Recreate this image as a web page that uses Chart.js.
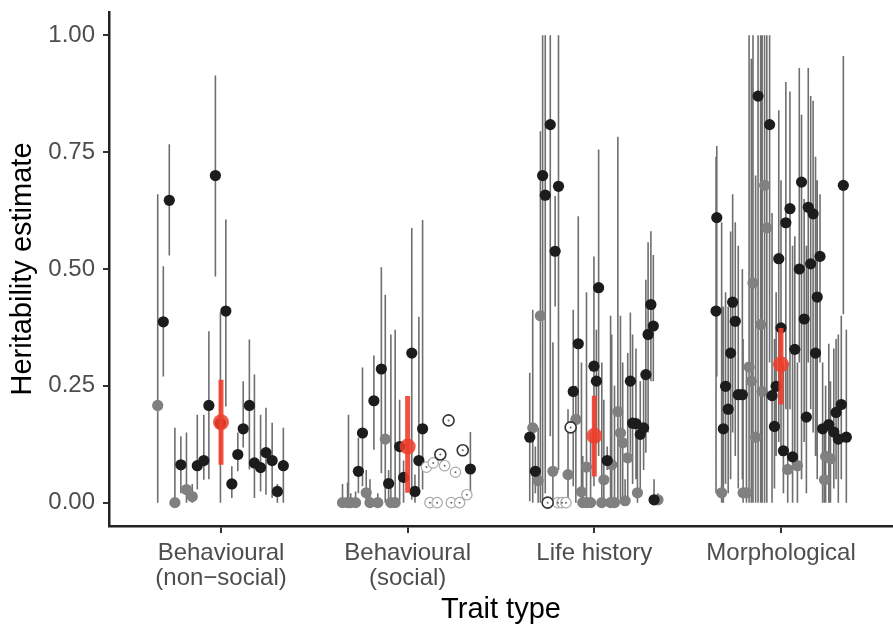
<!DOCTYPE html>
<html>
<head>
<meta charset="utf-8">
<script src="https://cdn.jsdelivr.net/npm/chart.js@4/dist/chart.umd.min.js"></script>
<style>
html,body{margin:0;padding:0;background:#fff;overflow:hidden;width:893px;height:625px;}
canvas{display:block;}
</style>
</head>
<body>
<canvas id="c" width="901" height="625"></canvas>
<script>
// ---- data (tuples: [jitter offset from category, estimate, lower CI, upper CI]) ----
const categories = ['Behavioural\n(non\u2212social)', 'Behavioural\n(social)', 'Life history', 'Morphological'];
const yTicks = [0, 0.25, 0.5, 0.75, 1.0];

const bnsGrey = [[-0.339,0.208,0,0.66],[-0.247,0.0,0,0.16],[-0.185,0.028,0,0.15],[-0.154,0.013,0,0.04]];
const bnsBlack = [[-0.309,0.387,0.27,0.506],[-0.277,0.647,0.529,0.767],[-0.215,0.081,0.02,0.142],[-0.127,0.079,0.028,0.188],
  [-0.092,0.09,0.049,0.188],[-0.065,0.208,0.05,0.367],[-0.030,0.70,0.484,0.914],[-0.003,0.17,0,0.407],[0.026,0.41,0.206,0.606],
  [0.058,0.04,0.01,0.078],[0.090,0.103,0.067,0.15],[0.119,0.158,0.118,0.26],[0.152,0.208,0.071,0.349],[0.179,0.085,0.01,0.274],
  [0.212,0.075,0.024,0.188],[0.241,0.107,0.017,0.203],[0.274,0.09,0.01,0.171],[0.302,0.024,0,0.04],[0.334,0.079,0,0.16]];

const bsGrey = [[-0.349,0,0,0.04],[-0.322,0,0,0.043],[-0.317,0,0,0.188],[-0.305,0,0,0.02],[-0.279,0,0,0.024],[-0.222,0.021,0,0.07],
  [-0.202,0,0,0.05],[-0.160,0,0,0.02],[-0.120,0.136,0,0.445],[-0.090,0,0,0.36],[-0.067,0,0,0.37]];
const bsBlack = [[-0.264,0.067,0.02,0.139],[-0.242,0.149,0.035,0.289],[-0.181,0.218,0.113,0.315],[-0.141,0.286,0.063,0.504],
  [-0.102,0.041,0.01,0.07],[-0.043,0.12,0.005,0.22],[-0.022,0.054,0,0.09],[0.022,0.32,0.006,0.588],[0.039,0.024,0,0.06],
  [0.060,0.09,0.03,0.398],[0.080,0.158,0.028,0.605],[0.336,0.072,0.01,0.151]];
const bsOpenLight = [[0.101,0.076],[0.137,0.085],[0.198,0.079],[0.256,0.065],[0.317,0.017],[0.119,0],[0.158,0],[0.234,0],[0.278,0]];
const bsOpenDark = [[0.175,0.103],[0.219,0.176],[0.295,0.112]];

const lhBlack = [[-0.346,0.14,0.003,0.278],[-0.316,0.067,0.02,0.12],[-0.277,0.70,0,1.0],[-0.263,0.658,0.02,1.0],[-0.236,0.809,0.142,1.0],
  [-0.210,0.538,0.42,0.656],[-0.192,0.677,0.07,1.0],[-0.113,0.238,0.035,0.413],[-0.086,0.34,0.17,0.613],[-0.002,0.292,0.035,0.527],
  [0.011,0.26,0.13,0.37],[0.023,0.46,0.1,0.756],[0.069,0.09,0.07,0.12],[0.193,0.26,0.107,0.407],[0.205,0.17,0.04,0.36],
  [0.223,0.169,0.05,0.33],[0.246,0.146,0.03,0.26],[0.264,0.16,0.07,0.28],[0.276,0.274,0.107,0.477],[0.288,0.36,0.15,0.557],
  [0.303,0.424,0.26,0.581],[0.316,0.378,0.26,0.53],[0.320,0.006,0,0.05]];
const lhGrey = [[-0.330,0.16,0,0.413],[-0.301,0.047,0,0.16],[-0.289,0.40,0,0.795],[-0.222,0.067,0,0.343],[-0.141,0.06,0,0.2],
  [-0.099,0.178,0,0.25],[-0.069,0.023,0,0.3],[-0.042,0.076,0,0.45],[-0.062,0,0,0.1],[-0.042,0,0,0.2],[-0.020,0,0,0.15],
  [0.051,0.049,0,0.22],[0.093,0.081,0,0.36],[0.040,0,0,0.3],[0.087,0,0,0.4],[0.108,0,0,0.25],
  [0.126,0.195,0,0.783],[0.140,0.149,0,0.40],[0.152,0.128,0,0.3],[0.179,0.096,0,0.32],[0.165,0.004,0,0.05],
  [0.231,0.021,0,0.15],[0.341,0.006,0,0.02]];
const lhOpenLight = [[-0.195,0],[-0.173,0],[-0.152,0]];
const lhOpenDark = [[-0.250,0],[-0.127,0.161]];

const mBlack = [[-0.344,0.61,0.27,0.763],[-0.348,0.41,0.02,0.74],[-0.309,0.158,0,0.42],[-0.297,0.249,0.04,0.45],[-0.283,0.2,0.02,0.42],
  [-0.270,0.32,0.05,0.58],[-0.259,0.429,0.15,0.66],[-0.245,0.388,0.1,0.6],[-0.229,0.231,0.03,0.55],[-0.207,0.231,0.05,0.5],
  [-0.123,0.87,0,1.0],[-0.061,0.809,0.3,1.0],[-0.048,0.229,0,0.62],[-0.035,0.163,0.03,0.35],[-0.026,0.249,0.1,0.45],
  [-0.012,0.522,0.13,0.84],[0.0,0.374,0.1,0.69],[0.013,0.111,0.02,0.3],[0.026,0.599,0.2,0.9],[0.048,0.629,0.2,0.88],
  [0.062,0.098,0,0.55],[0.074,0.328,0.1,0.57],[0.098,0.50,0.3,0.93],[0.110,0.686,0.05,0.83],[0.124,0.393,0.13,0.65],
  [0.136,0.183,0.02,0.55],[0.146,0.632,0.3,0.93],[0.159,0.511,0.2,0.87],[0.172,0.618,0.15,0.86],[0.185,0.32,0.1,0.74],
  [0.194,0.44,0.05,0.69],[0.209,0.527,0.3,0.66],[0.223,0.158,0,0.3],[0.256,0.167,0,0.34],[0.283,0.151,0.03,0.33],
  [0.295,0.193,0.05,0.35],[0.307,0.136,0,0.36],[0.323,0.21,0.05,0.4],[0.334,0.679,0.403,0.956],[0.350,0.14,0,0.37]];
const mGrey = [[-0.318,0.021,0,0.6],[-0.203,0.021,0,0.35],[-0.185,0.021,0,0.3],[-0.171,0.29,0,1.0],[-0.159,0.26,0,0.95],
  [-0.150,0.47,0,1.0],[-0.136,0.14,0,0.7],[-0.109,0.381,0,1.0],[-0.101,0.238,0,1.0],[-0.088,0.679,0,1.0],[-0.076,0.588,0,1.0],
  [0.036,0.071,0,0.3],[0.088,0.079,0,0.3],[0.233,0.049,0,0.15],[0.239,0.099,0,0.25],[0.265,0.094,0,0.26]];

const meanEst = [0.172, 0.12, 0.143, 0.296];
const meanLo = [0.081, 0.021, 0.056, 0.21];
const meanHi = [0.263, 0.228, 0.229, 0.374];

// ---- build library datasets ----
const groups = [
  {black: bnsBlack, grey: bnsGrey, openL: [], openD: []},
  {black: bsBlack, grey: bsGrey, openL: bsOpenLight, openD: bsOpenDark},
  {black: lhBlack, grey: lhGrey, openL: lhOpenLight, openD: lhOpenDark},
  {black: mBlack, grey: mGrey, openL: [], openD: []}
];
const pts = (key) => groups.flatMap((g, i) => g[key].map(t => ({x: i + 1 + t[0], y: t[1]})));
const bars = groups.flatMap((g, i) => [...g.grey, ...g.black].flatMap(t =>
  [{x: i + 1 + t[0], y: t[2]}, {x: i + 1 + t[0], y: t[3]}, {x: i + 1 + t[0], y: null}]));
const meanPts = meanEst.map((v, i) => ({x: i + 1, y: v}));
const meanBars = meanEst.flatMap((v, i) => [{x: i + 1, y: meanLo[i]}, {x: i + 1, y: meanHi[i]}, {x: i + 1, y: null}]);
const openAll = [...pts('openL'), ...pts('openD')];

const FONT = '"Liberation Sans", Arial, Helvetica, sans-serif';

new Chart(document.getElementById('c'), {
  type: 'scatter',
  data: {
    datasets: [
      {data: meanPts, pointRadius: 8, pointBackgroundColor: 'rgba(238,62,44,0.85)', pointBorderWidth: 0, order: 1},
      {data: meanBars, showLine: true, spanGaps: false, pointRadius: 0, borderColor: 'rgba(238,62,44,0.9)', borderWidth: 5, borderCapStyle: 'butt', order: 2},
      {data: openAll, pointRadius: 1, pointBackgroundColor: '#666', pointBorderWidth: 0, order: 3},
      {data: pts('openD'), pointRadius: 5.5, pointBackgroundColor: '#fff', pointBorderColor: '#333', pointBorderWidth: 1.6, order: 4},
      {data: pts('openL'), pointRadius: 5.2, pointBackgroundColor: '#fff', pointBorderColor: '#aaa', pointBorderWidth: 1.2, order: 5},
      {data: pts('black'), pointRadius: 5.6, pointBackgroundColor: '#1c1c1c', pointBorderWidth: 0, order: 6},
      {data: pts('grey'), pointRadius: 5.6, pointBackgroundColor: '#808080', pointBorderWidth: 0, order: 7},
      {data: bars, showLine: true, spanGaps: false, pointRadius: 0, borderColor: 'rgba(95,95,95,0.9)', borderWidth: 1.6, borderCapStyle: 'butt', order: 10}
    ]
  },
  options: {
    responsive: false,
    animation: false,
    events: [],
    layout: {padding: {left: 0, right: 0, top: 12, bottom: 0}},
    plugins: {legend: {display: false}, tooltip: {enabled: false}},
    scales: {
      x: {
        type: 'linear', min: 0.4, max: 4.6,
        afterBuildTicks: (s) => { s.ticks = categories.map((_, i) => ({value: i + 1})); },
        afterFit: (s) => { s.height = 99; s.paddingLeft = 0; s.paddingRight = 0; },
        ticks: {
          autoSkip: false, maxRotation: 0, padding: 8, color: '#4d4d4d',
          font: {family: FONT, size: 24, lineHeight: 1.05},
          callback: (v) => { const c = categories[Math.round(v) - 1]; return c ? c.split('\n') : ''; }
        },
        grid: {drawOnChartArea: false, drawTicks: true, tickLength: 7, color: '#333', lineWidth: 2},
        border: {display: true, color: '#222', width: 2.5},
        title: {display: true, text: 'Trait type', color: '#000', font: {family: FONT, size: 29, lineHeight: 1}, padding: {top: 0, bottom: 1}}
      },
      y: {
        type: 'linear', min: -0.05, max: 1.05,
        afterBuildTicks: (s) => { s.ticks = yTicks.map(v => ({value: v})); },
        afterFit: (s) => { s.width = 109; s.paddingTop = 0; s.paddingBottom = 0; },
        ticks: {padding: 8, color: '#4d4d4d', font: {family: FONT, size: 24}, callback: (v) => v.toFixed(2)},
        grid: {drawOnChartArea: false, drawTicks: true, tickLength: 6, color: '#333', lineWidth: 2},
        border: {display: true, color: '#222', width: 2.5},
        title: {display: true, text: 'Heritability estimate', color: '#000', font: {family: FONT, size: 29, lineHeight: 1}, padding: {top: 8, bottom: 0}}
      }
    }
  }
});
</script>
</body>
</html>
